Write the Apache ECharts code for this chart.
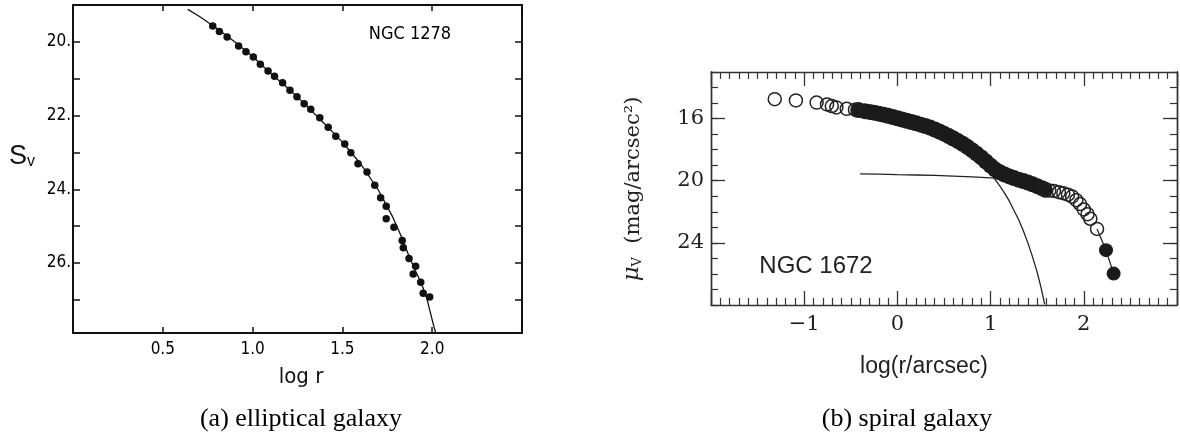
<!DOCTYPE html>
<html>
<head>
<meta charset="utf-8">
<script src="https://cdn.jsdelivr.net/npm/echarts@6/dist/echarts.min.js"></script>
<style>
html,body{margin:0;padding:0;background:#fff;}
#c{width:1180px;height:439px;}
</style>
</head>
<body>
<div id="c"></div>
<script>
// ---------- Panel (a): NGC 1278, elliptical ----------
const ellipticalObs = [
  [0.778,19.57],[0.815,19.72],[0.858,19.87],[0.922,20.11],[0.963,20.27],[1.004,20.41],
  [1.043,20.61],[1.086,20.79],[1.122,20.93],[1.167,21.11],[1.208,21.31],[1.247,21.49],
  [1.287,21.68],[1.324,21.83],[1.374,22.06],[1.421,22.32],[1.463,22.56],[1.513,22.77],
  [1.547,23.01],[1.587,23.31],[1.637,23.53],[1.680,23.89],[1.713,24.23],[1.744,24.46],
  [1.744,24.80],[1.787,25.03],[1.833,25.39],[1.839,25.59],[1.871,25.88],[1.908,26.09],
  [1.894,26.30],[1.936,26.52],[1.950,26.82],[1.986,26.92]
];
const ellipticalFit = [
  [0.639,19.12],[0.70,19.30],[0.80,19.63],[0.90,20.00],[1.00,20.40],[1.10,20.85],
  [1.20,21.27],[1.30,21.73],[1.40,22.22],[1.50,22.72],[1.60,23.30],[1.70,24.02],
  [1.78,24.75],[1.83,25.30],[1.874,25.85],[1.91,26.25],[1.94,26.55],[1.972,27.0],
  [2.009,27.72],[2.02,27.9]
];
const ellipticalXTicks = [0.5, 1.0, 1.5, 2.0];
const ellipticalYLabels = [20, 22, 24, 26];

// ---------- Panel (b): NGC 1672, spiral ----------
const spiralInnerOpen = [
  [-1.316,14.75],[-1.089,14.83],[-0.867,14.97],[-0.755,15.09],[-0.704,15.19],
  [-0.655,15.28],[-0.544,15.37],[-0.455,15.43]
];
const spiralBandFilled = [
  [-0.42,15.45],[-0.35,15.52],[-0.30,15.57],[-0.25,15.62],[-0.20,15.68],[-0.15,15.75],
  [-0.10,15.82],[-0.05,15.90],[0.00,15.98],[0.05,16.06],[0.10,16.14],[0.15,16.22],
  [0.20,16.30],[0.25,16.39],[0.30,16.48],[0.35,16.58],[0.40,16.70],[0.45,16.83],
  [0.50,16.97],[0.55,17.12],[0.60,17.28],[0.65,17.45],[0.70,17.62],[0.75,17.82],
  [0.80,18.03],[0.85,18.26],[0.90,18.50],[0.95,18.76],[1.00,19.03],[1.05,19.28],
  [1.10,19.46],[1.15,19.60],[1.20,19.72],[1.25,19.83],[1.30,19.93],[1.35,20.02],
  [1.40,20.12],[1.45,20.23],[1.50,20.35],[1.55,20.48],[1.58,20.56]
];
const spiralOuterOpen = [
  [1.59,20.63],[1.63,20.63],[1.68,20.66],[1.733,20.74],[1.78,20.80],[1.83,20.90],
  [1.875,21.02],[1.92,21.25],[1.96,21.50],[2.00,21.85],[2.04,22.15],[2.07,22.45],
  [2.142,23.10]
];
const spiralOuterFilled = [[2.238,24.47],[2.32,25.98]];
const spiralDiskFit = [
  [-0.40,19.56],[-0.20,19.58],[0.00,19.61],[0.20,19.63],[0.40,19.66],[0.60,19.70],
  [0.80,19.75],[1.00,19.82],[1.10,19.87],[1.20,19.93],[1.35,20.10],[1.50,20.35]
];
const spiralBulgeFit = [
  [0.90,18.60],[0.97,19.20],[1.04,19.85],[1.10,20.35],[1.15,20.80],[1.20,21.30],
  [1.25,21.90],[1.30,22.50],[1.35,23.20],[1.40,24.00],[1.45,24.90],[1.50,25.90],
  [1.54,26.85],[1.58,27.95]
];
const spiralOuterFit = [[2.142,23.10],[2.238,24.47],[2.32,25.98]];
const spiralXLabels = [-1, 0, 1, 2];
const spiralYLabels = [16, 20, 24];

// ---------- chart ----------
const SANS_A = "'Liberation Sans Narrow','DejaVu Sans Condensed','Liberation Sans',sans-serif";
const SANS_B = "'Liberation Sans','Helvetica',sans-serif";
const SERIF_B = "'DejaVu Serif',serif";
const CAP = "'Liberation Serif',serif";

const axA = {color:'#111', width:2};
const axB = {color:'#333', width:1.4};

const chart = echarts.init(document.getElementById('c'), null, {renderer:'canvas'});

function fmtA_x(v){ return ellipticalXTicks.some(t => Math.abs(t-v)<1e-6) ? v.toFixed(1) : ''; }
function fmtA_y(v){ return ellipticalYLabels.indexOf(v) >= 0 ? v + '.' : ''; }
function fmtB_x(v){ return spiralXLabels.indexOf(v) >= 0 ? (v < 0 ? '\u2212' + Math.abs(v) : String(v)) : ''; }

const option = {
  animation:false,
  backgroundColor:'#fff',
  grid:[
    {left:73, top:5, width:449, height:328},
    {left:711, top:72, width:468, height:233}
  ],
  xAxis:[
    {gridIndex:0, type:'value', position:'bottom', min:0, max:2.5, interval:0.5,
     axisLine:{onZero:false, lineStyle:axA},
     axisTick:{inside:true, length:6, lineStyle:{color:'#111', width:1.5}},
     axisLabel:{formatter:fmtA_x, margin:8, color:'#000', fontSize:17, fontFamily:SANS_A},
     splitLine:{show:false}},
    {gridIndex:0, type:'value', position:'top', min:0, max:2.5, interval:0.5,
     axisLine:{onZero:false, lineStyle:axA},
     axisTick:{inside:true, length:6, lineStyle:{color:'#111', width:1.5}},
     axisLabel:{show:false}, splitLine:{show:false}},
    {gridIndex:1, type:'value', position:'bottom', min:-2, max:3, interval:1,
     axisLine:{onZero:false, lineStyle:axB},
     axisTick:{inside:true, length:14, lineStyle:{color:'#333', width:1.3}},
     minorTick:{show:true, splitNumber:10, length:7, lineStyle:{color:'#333', width:1.2}},
     axisLabel:{formatter:fmtB_x, margin:9, color:'#222', fontSize:21, fontFamily:SERIF_B},
     splitLine:{show:false}, minorSplitLine:{show:false}},
    {gridIndex:1, type:'value', position:'top', min:-2, max:3, interval:1,
     axisLine:{onZero:false, lineStyle:axB},
     axisTick:{inside:true, length:14, lineStyle:{color:'#333', width:1.3}},
     minorTick:{show:true, splitNumber:10, length:7, lineStyle:{color:'#333', width:1.2}},
     axisLabel:{show:false}, splitLine:{show:false}, minorSplitLine:{show:false}}
  ],
  yAxis:[
    {gridIndex:0, type:'value', position:'left', inverse:true, min:19, max:27.9, interval:1,
     axisLine:{onZero:false, lineStyle:axA},
     axisTick:{inside:true, length:7, lineStyle:{color:'#111', width:1.5}},
     axisLabel:{formatter:fmtA_y, margin:2, color:'#000', fontSize:17, fontFamily:SANS_A},
     splitLine:{show:false}},
    {gridIndex:0, type:'value', position:'right', inverse:true, min:19, max:27.9, interval:1,
     axisLine:{onZero:false, lineStyle:axA},
     axisTick:{inside:true, length:7, lineStyle:{color:'#111', width:1.5}},
     axisLabel:{show:false}, splitLine:{show:false}},
    {gridIndex:1, type:'value', position:'left', inverse:true, min:13, max:28, interval:1,
     axisLine:{onZero:false, lineStyle:axB},
     axisTick:{inside:true, length:14, customValues:spiralYLabels, lineStyle:{color:'#333', width:1.3}},
     axisLabel:{customValues:spiralYLabels, margin:7, color:'#222', fontSize:21, fontFamily:SERIF_B},
     splitLine:{show:false}},
    {gridIndex:1, type:'value', position:'left', inverse:true, min:13, max:28, interval:1,
     axisLine:{onZero:false, lineStyle:axB},
     axisTick:{inside:true, length:7, lineStyle:{color:'#333', width:1.2}},
     axisLabel:{show:false}, splitLine:{show:false}},
    {gridIndex:1, type:'value', position:'right', inverse:true, min:13, max:28, interval:1,
     axisLine:{onZero:false, lineStyle:axB},
     axisTick:{inside:true, length:14, customValues:spiralYLabels, lineStyle:{color:'#333', width:1.3}},
     axisLabel:{show:false}, splitLine:{show:false}},
    {gridIndex:1, type:'value', position:'right', inverse:true, min:13, max:28, interval:1,
     axisLine:{onZero:false, lineStyle:axB},
     axisTick:{inside:true, length:7, lineStyle:{color:'#333', width:1.2}},
     axisLabel:{show:false}, splitLine:{show:false}}
  ],
  series:[
    {type:'line', xAxisIndex:0, yAxisIndex:0, data:ellipticalFit, showSymbol:false, silent:true,
     lineStyle:{color:'#111', width:1.3}, z:2},
    {type:'scatter', xAxisIndex:0, yAxisIndex:0, data:ellipticalObs, symbol:'circle', symbolSize:7.5,
     itemStyle:{color:'#111', opacity:1}, silent:true, z:3},

    {type:'line', xAxisIndex:2, yAxisIndex:2, data:spiralDiskFit, showSymbol:false, silent:true,
     lineStyle:{color:'#222', width:1.3}, z:2},
    {type:'line', xAxisIndex:2, yAxisIndex:2, data:spiralBulgeFit, showSymbol:false, silent:true,
     lineStyle:{color:'#222', width:1.3}, z:2},
    {type:'line', xAxisIndex:2, yAxisIndex:2, data:spiralOuterFit, showSymbol:false, silent:true,
     lineStyle:{color:'#222', width:1.3}, z:2},
    {type:'scatter', xAxisIndex:2, yAxisIndex:2, data:spiralBandFilled, symbol:'circle', symbolSize:16,
     itemStyle:{color:'#1b1b1b', opacity:1}, silent:true, z:3},
    {type:'scatter', xAxisIndex:2, yAxisIndex:2, data:spiralInnerOpen.concat(spiralOuterOpen), symbol:'circle', symbolSize:13,
     itemStyle:{color:'rgba(255,255,255,0)', borderColor:'#222', borderWidth:1.5, opacity:1}, silent:true, z:4},
    {type:'scatter', xAxisIndex:2, yAxisIndex:2, data:spiralOuterFilled, symbol:'circle', symbolSize:14,
     itemStyle:{color:'#1b1b1b', opacity:1}, silent:true, z:4}
  ],
  graphic:[
    {type:'text', x:22, y:156, style:{text:'{s|S}{v|v}', align:'center', verticalAlign:'middle',
      rich:{s:{fontSize:27, lineHeight:28, fontFamily:SANS_B, fill:'#111', verticalAlign:'bottom'},
            v:{fontSize:16, lineHeight:16, fontFamily:SANS_B, fill:'#111', verticalAlign:'bottom'}}}},
    {type:'text', x:301, y:377, style:{text:'log r', align:'center', verticalAlign:'middle',
      fontSize:22, fontFamily:SANS_A, fill:'#111'}},
    {type:'text', x:410, y:34, style:{text:'NGC 1278', align:'center', verticalAlign:'middle',
      fontSize:18, fontFamily:SANS_A, fill:'#000'}},
    {type:'text', x:631, y:189, rotation:Math.PI/2, style:{text:'{mu|μ}{sub|V}{t|  (mag/arcsec²)}', align:'center', verticalAlign:'middle',
      rich:{mu:{fontSize:23, lineHeight:26, fontStyle:'italic', fontFamily:SERIF_B, fill:'#222', verticalAlign:'bottom'},
            sub:{fontSize:13, lineHeight:13, fontFamily:SERIF_B, fill:'#222', verticalAlign:'bottom'},
            t:{fontSize:21, lineHeight:26, fontFamily:SERIF_B, fill:'#222', verticalAlign:'bottom'}}}},
    {type:'text', x:816, y:266, style:{text:'NGC 1672', align:'center', verticalAlign:'middle',
      fontSize:24, fontFamily:SANS_B, fill:'#222'}},
    {type:'text', x:924, y:367, style:{text:'log(r/arcsec)', align:'center', verticalAlign:'middle',
      fontSize:23, fontFamily:SANS_B, fill:'#222'}},
    {type:'text', x:301, y:419, style:{text:'(a) elliptical galaxy', align:'center', verticalAlign:'middle',
      fontSize:26, fontFamily:CAP, fill:'#000'}},
    {type:'text', x:907, y:419, style:{text:'(b) spiral galaxy', align:'center', verticalAlign:'middle',
      fontSize:26, fontFamily:CAP, fill:'#000'}}
  ]
};
chart.setOption(option);
</script>
</body>
</html>
